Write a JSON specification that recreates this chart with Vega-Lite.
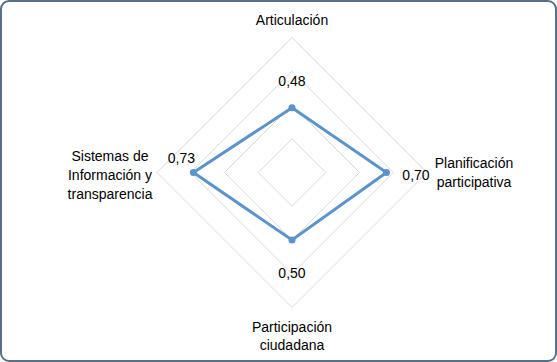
{
  "$schema": "https://vega.github.io/schema/vega-lite/v6.json",
  "width": 555,
  "height": 360,
  "padding": 1,
  "autosize": "none",
  "background": "white",
  "config": {
    "view": {"stroke": "#56708c", "strokeWidth": 2, "cornerRadius": 8},
    "locale": {"number": {"decimal": ",", "thousands": ".", "grouping": [3], "currency": ["", " €"]}},
    "text": {"font": "Liberation Sans, Arial", "fontSize": 14, "color": "#000000"}
  },
  "datasets": {
    "cats": [
      {"category": "Articulación", "value": 0.48, "k": 0},
      {"category": "Planificación\nparticipativa", "value": 0.70, "k": 1},
      {"category": "Participación\nciudadana", "value": 0.50, "k": 2},
      {"category": "Sistemas de\nInformación y\ntransparencia", "value": 0.73, "k": 3}
    ],
    "grid": [
      {"level": 0.25, "k": [0, 1, 2, 3]},
      {"level": 0.5, "k": [0, 1, 2, 3]},
      {"level": 0.75, "k": [0, 1, 2, 3]},
      {"level": 1.0, "k": [0, 1, 2, 3]}
    ]
  },
  "encoding": {
    "x": {"field": "x", "type": "quantitative", "scale": {"domain": [-2.15556, 1.95556], "nice": false, "zero": false}, "axis": null},
    "y": {"field": "y", "type": "quantitative", "scale": {"domain": [-1.3963, 1.27037], "nice": false, "zero": false}, "axis": null}
  },
  "layer": [
    {
      "data": {"name": "grid"},
      "transform": [
        {"flatten": ["k"]},
        {"calculate": "datum.level * sin(datum.k * PI / 2)", "as": "x"},
        {"calculate": "datum.level * cos(datum.k * PI / 2)", "as": "y"}
      ],
      "mark": {"type": "line", "color": "#d9d9d9", "strokeWidth": 1, "interpolate": "linear-closed"},
      "encoding": {"detail": {"field": "level"}, "order": {"field": "k"}}
    },
    {
      "data": {"name": "cats"},
      "transform": [
        {"calculate": "datum.value * sin(datum.k * PI / 2)", "as": "x"},
        {"calculate": "datum.value * cos(datum.k * PI / 2)", "as": "y"}
      ],
      "layer": [
        {"mark": {"type": "line", "color": "#5b94cc", "strokeWidth": 3, "interpolate": "linear-closed"}, "encoding": {"order": {"field": "k"}}},
        {"mark": {"type": "circle", "color": "#5b94cc", "size": 50, "opacity": 1}},
        {"transform": [{"filter": "datum.k == 0"}], "mark": {"type": "text", "align": "center", "baseline": "alphabetic", "dy": -21.5}, "encoding": {"text": {"field": "value", "format": ".2f"}}},
        {"transform": [{"filter": "datum.k == 1"}], "mark": {"type": "text", "align": "center", "baseline": "alphabetic", "dx": 29.5, "dy": 8}, "encoding": {"text": {"field": "value", "format": ".2f"}}},
        {"transform": [{"filter": "datum.k == 2"}], "mark": {"type": "text", "align": "center", "baseline": "alphabetic", "dy": 38.5}, "encoding": {"text": {"field": "value", "format": ".2f"}}},
        {"transform": [{"filter": "datum.k == 3"}], "mark": {"type": "text", "align": "center", "baseline": "alphabetic", "dx": -12, "dy": -9.5}, "encoding": {"text": {"field": "value", "format": ".2f"}}}
      ]
    },
    {
      "data": {"name": "cats"},
      "transform": [
        {"calculate": "sin(datum.k * PI / 2)", "as": "x"},
        {"calculate": "cos(datum.k * PI / 2)", "as": "y"}
      ],
      "layer": [
        {"transform": [{"filter": "datum.k == 0"}], "mark": {"type": "text", "align": "center", "baseline": "alphabetic", "dy": -12, "lineBreak": "\n", "lineHeight": 18.5}, "encoding": {"text": {"field": "category"}}},
        {"transform": [{"filter": "datum.k == 1"}], "mark": {"type": "text", "align": "center", "baseline": "alphabetic", "dx": 47, "dy": -4.2, "lineBreak": "\n", "lineHeight": 18.5}, "encoding": {"text": {"field": "category"}}},
        {"transform": [{"filter": "datum.k == 2"}], "mark": {"type": "text", "align": "center", "baseline": "alphabetic", "dy": 24.5, "lineBreak": "\n", "lineHeight": 18}, "encoding": {"text": {"field": "category"}}},
        {"transform": [{"filter": "datum.k == 3"}], "mark": {"type": "text", "align": "center", "baseline": "alphabetic", "dx": -47, "dy": -11.8, "lineBreak": "\n", "lineHeight": 19}, "encoding": {"text": {"field": "category"}}}
      ]
    }
  ]
}
